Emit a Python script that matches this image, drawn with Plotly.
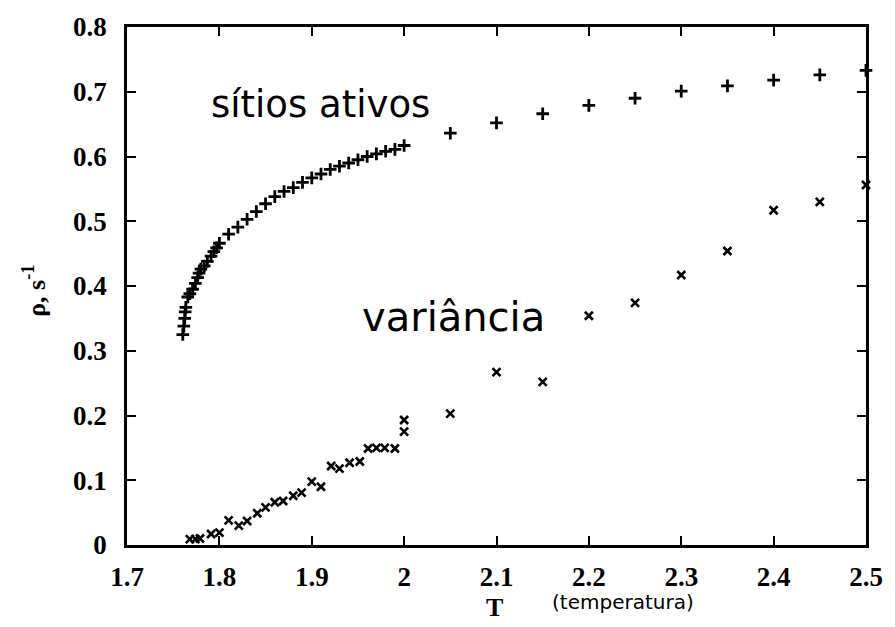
import plotly.graph_objects as go

# Active-site density (+) versus temperature
T_ativos = [1.7604, 1.7615, 1.7625, 1.7630, 1.7637,
            1.7658, 1.768, 1.771, 1.774, 1.7765, 1.778, 1.780, 1.7836, 1.787, 1.791, 1.794, 1.797, 1.800,
            1.81, 1.82, 1.83, 1.84, 1.85, 1.86, 1.87, 1.88, 1.89, 1.90,
            1.91, 1.92, 1.93, 1.94, 1.95, 1.96, 1.97, 1.98, 1.99, 2.00,
            2.05, 2.10, 2.15, 2.20, 2.25, 2.30, 2.35, 2.40, 2.45, 2.50]
rho_ativos = [0.325, 0.338, 0.350, 0.360, 0.367,
              0.383, 0.388, 0.395, 0.404, 0.413, 0.420, 0.426, 0.431, 0.438, 0.446, 0.453, 0.459, 0.466,
              0.480, 0.491, 0.503, 0.515, 0.527, 0.538, 0.546, 0.552, 0.560, 0.567,
              0.573, 0.580, 0.585, 0.590, 0.595, 0.600, 0.604, 0.608, 0.611, 0.617,
              0.636, 0.652, 0.666, 0.679, 0.690, 0.701, 0.709, 0.718, 0.726, 0.733]

# Variance (x) versus temperature
T_var = [1.768, 1.774, 1.779, 1.791, 1.800, 1.810, 1.821, 1.830, 1.841, 1.850,
         1.860, 1.869, 1.880, 1.889, 1.900, 1.910, 1.921, 1.930, 1.941, 1.952,
         1.961, 1.970, 1.979, 1.990, 2.000, 2.000,
         2.05, 2.10, 2.15, 2.20, 2.25, 2.30, 2.35, 2.40, 2.45, 2.50]
rho_var = [0.009, 0.009, 0.010, 0.017, 0.019, 0.038, 0.030, 0.037, 0.049, 0.058,
           0.066, 0.068, 0.076, 0.081, 0.098, 0.090, 0.122, 0.118, 0.127, 0.129,
           0.149, 0.150, 0.150, 0.149, 0.193, 0.175,
           0.203, 0.267, 0.252, 0.354, 0.374, 0.417, 0.454, 0.517, 0.530, 0.556]

x_ticks = [1.7, 1.8, 1.9, 2.0, 2.1, 2.2, 2.3, 2.4, 2.5]
x_ticklabels = ["1.7", "1.8", "1.9", "2", "2.1", "2.2", "2.3", "2.4", "2.5"]
y_ticks = [0, 0.1, 0.2, 0.3, 0.4, 0.5, 0.6, 0.7, 0.8]
y_ticklabels = ["0", "0.1", "0.2", "0.3", "0.4", "0.5", "0.6", "0.7", "0.8"]

fig = go.Figure()
fig.add_trace(go.Scatter(
    x=T_ativos, y=rho_ativos, mode="markers", cliponaxis=False,
    marker=dict(symbol="cross-thin", size=9, color="black",
                line=dict(color="black", width=2.8)),
    showlegend=False))
fig.add_trace(go.Scatter(
    x=T_var, y=rho_var, mode="markers", cliponaxis=False,
    marker=dict(symbol="x-thin", size=8, color="black",
                line=dict(color="black", width=2.6)),
    showlegend=False))

serif_tick = dict(family="Liberation Serif", size=27, color="black", weight="bold")
axis_common = dict(showline=True, linecolor="black", linewidth=2.8, mirror="ticks",
                   ticks="inside", ticklen=9, tickwidth=2.2, tickcolor="black",
                   showgrid=False, zeroline=False, tickfont=serif_tick)

fig.update_xaxes(range=[1.7, 2.5], tickvals=x_ticks, ticktext=x_ticklabels,
                 ticklabelstandoff=6, **axis_common)
fig.update_yaxes(range=[0, 0.8], tickvals=y_ticks, ticktext=y_ticklabels,
                 ticklabelstandoff=12, **axis_common)

fig.add_annotation(x=1.7885, y=0.681, xref="x", yref="y", text="sítios ativos",
                   showarrow=False, xanchor="left", yanchor="middle",
                   font=dict(family="DejaVu Sans", size=37, color="black"))
fig.add_annotation(x=1.952, y=0.352, xref="x", yref="y", text="variância",
                   showarrow=False, xanchor="left", yanchor="middle",
                   font=dict(family="DejaVu Sans", size=40, color="black"))

# axis titles
fig.add_annotation(x=-0.125, y=0.49, xref="paper", yref="paper",
                   text="ρ, s<sup>-1</sup>", textangle=-90, showarrow=False,
                   xanchor="center", yanchor="middle",
                   font=dict(family="Liberation Serif", size=26, color="black", weight="bold"))
fig.add_annotation(x=0.497, y=-0.12, xref="paper", yref="paper", text="T",
                   showarrow=False, xanchor="center", yanchor="middle",
                   font=dict(family="Liberation Serif", size=26, color="black", weight="bold"))
fig.add_annotation(x=0.572, y=-0.11, xref="paper", yref="paper", text="(temperatura)",
                   showarrow=False, xanchor="left", yanchor="middle",
                   font=dict(family="DejaVu Sans", size=20, color="black"))

fig.update_layout(width=895, height=627, margin=dict(l=127, r=21, t=19, b=82),
                  plot_bgcolor="white", paper_bgcolor="white")

fig.write_html("out.html")
